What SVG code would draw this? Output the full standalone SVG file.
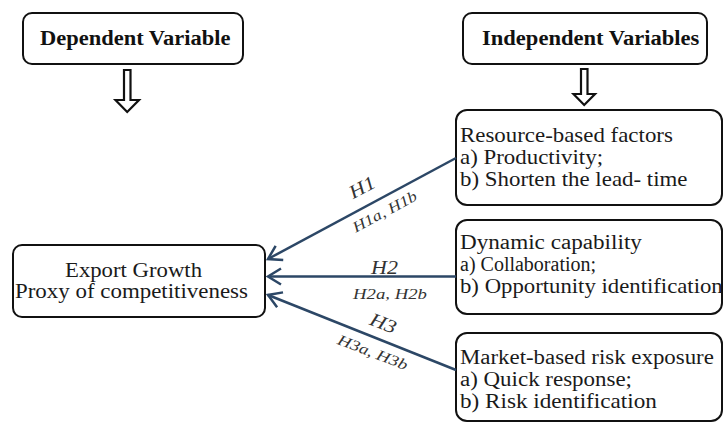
<svg xmlns="http://www.w3.org/2000/svg" width="725" height="424" viewBox="0 0 725 424">
<style>
.box{fill:#fff;stroke:#111;stroke-width:2}
.hd{font-weight:bold;font-size:20px;fill:#111}
.tx{font-size:20px;fill:#1a1a1a}
.lb{font-style:italic;font-size:19px;fill:#333}
.sl{font-style:italic;font-size:15px;fill:#333}
.con{stroke:#2c4766;stroke-width:2.5;fill:none}
.hollow{fill:#fff;stroke:#111;stroke-width:2.2;stroke-linejoin:miter}
</style>
<defs>
<marker id="chev" markerUnits="userSpaceOnUse" markerWidth="30" markerHeight="30" viewBox="-15 -15 30 30" refX="0" refY="0" orient="auto">
<path d="M-13,-8 L0,0 L-13,8" fill="none" stroke="#2c4766" stroke-width="2.5"/>
</marker>
</defs>

<g id="dependent-header" font-family="Liberation Serif, serif">
<rect class="box" x="23" y="13" width="220" height="51" rx="9"/>
<text class="hd" transform="translate(40,45) scale(1.124,1)">Dependent Variable</text>
<path class="hollow" d="M124,70 H130.5 V100 H139 L127.2,112 L115.5,100 H124 Z"/>
</g>

<g id="independent-header" font-family="Liberation Serif, serif">
<rect class="box" x="463" y="13" width="244" height="51" rx="9"/>
<text class="hd" transform="translate(482,45) scale(1.128,1)">Independent Variables</text>
<path class="hollow" d="M581,69 H587.5 V94 H595 L584.2,105 L573.5,94 H581 Z"/>
</g>

<g id="export-growth" font-family="Liberation Serif, serif">
<rect class="box" x="13" y="245" width="252" height="72" rx="9"/>
<text class="tx" transform="translate(65,277) scale(1.137,1)">Export Growth</text>
<text class="tx" transform="translate(15,298) scale(1.146,1)">Proxy of competitiveness</text>
</g>

<g id="resource-based" font-family="Liberation Serif, serif">
<rect class="box" x="456" y="110" width="266" height="95" rx="11"/>
<text class="tx" transform="translate(460,142) scale(1.145,1)">Resource-based factors</text>
<text class="tx" transform="translate(460,164) scale(1.145,1)">a) Productivity;</text>
<text class="tx" transform="translate(460,186) scale(1.145,1)">b) Shorten the lead- time</text>
</g>

<g id="dynamic-capability" font-family="Liberation Serif, serif">
<rect class="box" x="456" y="220" width="266" height="94" rx="11"/>
<text class="tx" transform="translate(460,249) scale(1.158,1)">Dynamic capability</text>
<text class="tx" transform="translate(460,271) scale(1.0,1)">a) Collaboration;</text>
<text class="tx" transform="translate(460,293) scale(1.138,1)">b) Opportunity identification</text>
</g>

<g id="market-based" font-family="Liberation Serif, serif">
<rect class="box" x="456" y="333" width="266" height="88" rx="11"/>
<text class="tx" transform="translate(460,364) scale(1.143,1)">Market-based risk exposure</text>
<text class="tx" transform="translate(460,386) scale(1.147,1)">a) Quick response;</text>
<text class="tx" transform="translate(460,408) scale(1.159,1)">b) Risk identification</text>
</g>

<g id="connectors" font-family="Liberation Serif, serif">
<line class="con" x1="456" y1="158" x2="268" y2="259" marker-end="url(#chev)"/>
<line class="con" x1="456" y1="276.5" x2="268" y2="276.5" marker-end="url(#chev)"/>
<line class="con" x1="456" y1="370" x2="268" y2="295" marker-end="url(#chev)"/>
<text class="lb" transform="translate(365,193) rotate(-28) scale(1.16,1)" text-anchor="middle">H1</text>
<text class="sl" transform="translate(387,216) rotate(-28) scale(1.2,1)" text-anchor="middle">H1a, H1b</text>
<text class="lb" transform="translate(384.5,274) scale(1.16,1)" text-anchor="middle">H2</text>
<text class="sl" transform="translate(390,299) scale(1.25,1)" text-anchor="middle">H2a, H2b</text>
<text class="lb" transform="translate(381,329) rotate(21) scale(1.16,1)" text-anchor="middle">H3</text>
<text class="sl" transform="translate(371,357) rotate(21) scale(1.25,1)" text-anchor="middle">H3a, H3b</text>
</g>
</svg>
